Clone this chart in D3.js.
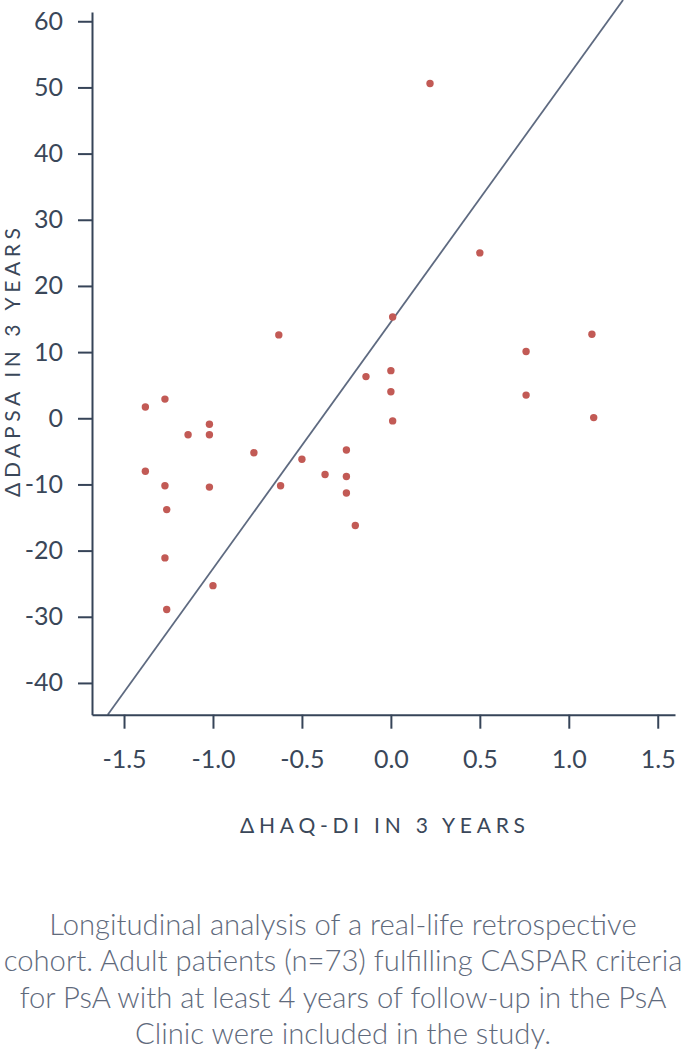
<!DOCTYPE html>
<html>
<head>
<meta charset="utf-8">
<script src="https://cdn.jsdelivr.net/npm/d3@7"></script>
<style>
  html, body { margin: 0; padding: 0; background: #fff; }
  svg { display: block; }
</style>
</head>
<body>
<svg id="chart" width="686" height="1064"></svg>
<script>
// ---- data ----
const haqDelta = [
  -1.38, -1.27, -1.02, -1.14, -1.02, -0.77, -0.50, -1.38, -1.27, -1.02,
  -0.62, -1.26, -1.27, -1.00, -1.26,
   0.01, -0.63,  0.00, -0.14,  0.00,  0.01, -0.25, -0.37, -0.25, -0.25, -0.20,
   0.22,  0.50,  1.13,  0.76,  0.76,  1.14
];
const dapsaDelta = [
   1.7,   2.9,  -0.9,  -2.5,  -2.5,  -5.2,  -6.2,  -8.0, -10.2, -10.4,
 -10.2, -13.8, -21.1, -25.3, -28.9,
  15.3,  12.6,   7.2,   6.3,   4.0,  -0.4,  -4.8,  -8.5,  -8.8, -11.3, -16.2,
  50.6,  25.0,  12.7,  10.1,   3.5,   0.1
];
const fitLine = { intercept: 14.55, slope: 37.29 };
const xTicks = [-1.5, -1.0, -0.5, 0.0, 0.5, 1.0, 1.5];
const xTickLabels = ["-1.5", "-1.0", "-0.5", "0.0", "0.5", "1.0", "1.5"];
const yTicks = [-40, -30, -20, -10, 0, 10, 20, 30, 40, 50, 60];
const yTickLabels = ["-40", "-30", "-20", "-10", "0", "10", "20", "30", "40", "50", "60"];
const xTitle = "ΔHAQ-DI IN 3 YEARS";
const yTitle = "ΔDAPSA IN 3 YEARS";
const captionLines = [
  "Longitudinal analysis of a real-life retrospective",
  "cohort. Adult patients (n=73) fulfilling CASPAR criteria",
  "for PsA with at least 4 years of follow-up in the PsA",
  "Clinic were included in the study."
];

// ---- layout ----
const svg = d3.select("#chart");
const axisColor = "#364458";
const textColor = "#3a4759";
const font = "Lato, 'Open Sans', sans-serif";

const x = d3.scaleLinear().domain([-1.68, 1.597]).range([92, 675]);
const y = d3.scaleLinear().domain([-44.8, 61.4]).range([714.7, 12]);

// fit line (drawn first, under the points)
const yTop = y.invert(0);
const lineData = [
  [(y.domain()[0] - fitLine.intercept) / fitLine.slope, y.domain()[0]],
  [(yTop - fitLine.intercept) / fitLine.slope, yTop]
];
svg.append("path")
  .attr("d", d3.line().x(d => x(d[0])).y(d => y(d[1]))(lineData))
  .attr("fill", "none")
  .attr("stroke", "#5e6a80")
  .attr("stroke-width", 1.8);

// axes
const yAxis = d3.axisLeft(y)
  .tickValues(yTicks)
  .tickFormat((d, i) => yTickLabels[i])
  .tickSize(14).tickSizeOuter(0).tickPadding(15);
const gy = svg.append("g").attr("transform", `translate(${x.range()[0]},0)`).call(yAxis);

const xAxis = d3.axisBottom(x)
  .tickValues(xTicks)
  .tickFormat((d, i) => xTickLabels[i])
  .tickSize(14).tickSizeOuter(0);
const gx = svg.append("g").attr("transform", `translate(0,${y.range()[0]})`).call(xAxis);

[gx, gy].forEach(g => {
  g.select(".domain").attr("stroke", axisColor).attr("stroke-width", 2);
  g.selectAll(".tick line").attr("stroke", axisColor).attr("stroke-width", 2);
  g.selectAll(".tick text")
    .attr("fill", textColor)
    .style("font-family", font)
    .style("font-size", "25px");
});
gx.selectAll(".tick text").attr("y", 53).attr("dy", 0);

// points
svg.append("g").selectAll("circle")
  .data(haqDelta.map((v, i) => [v, dapsaDelta[i]]))
  .join("circle")
  .attr("cx", d => x(d[0]))
  .attr("cy", d => y(d[1]))
  .attr("r", 3.7)
  .attr("fill", "#c25a55");

// axis titles
svg.append("text")
  .attr("x", 382.5).attr("y", 833)
  .attr("text-anchor", "middle")
  .attr("fill", textColor)
  .attr("textLength", 285).attr("lengthAdjust", "spacing")
  .style("font-family", font).style("font-size", "21px")
  .text(xTitle);

svg.append("text")
  .attr("transform", "translate(20,362.5) rotate(-90)")
  .attr("text-anchor", "middle")
  .attr("fill", textColor)
  .attr("textLength", 269).attr("lengthAdjust", "spacing")
  .style("font-family", font).style("font-size", "21px")
  .text(yTitle);

// caption
const cap = svg.append("g")
  .attr("fill", "#5f6a7c")
  .style("font-family", font)
  .style("font-weight", 300);
const capTexts = cap.selectAll("text")
  .data(captionLines)
  .join("text")
  .attr("x", 343)
  .attr("y", (d, i) => 935 + i * 36.3)
  .attr("text-anchor", "middle")
  .style("font-size", "26px")
  .text(d => d);
// scale the font so the widest line spans the same width as in the picture
const w = capTexts.nodes()[1].getComputedTextLength();
const fs = 26 * 679 / w;
capTexts.style("font-size", fs + "px");
</script>
</body>
</html>
